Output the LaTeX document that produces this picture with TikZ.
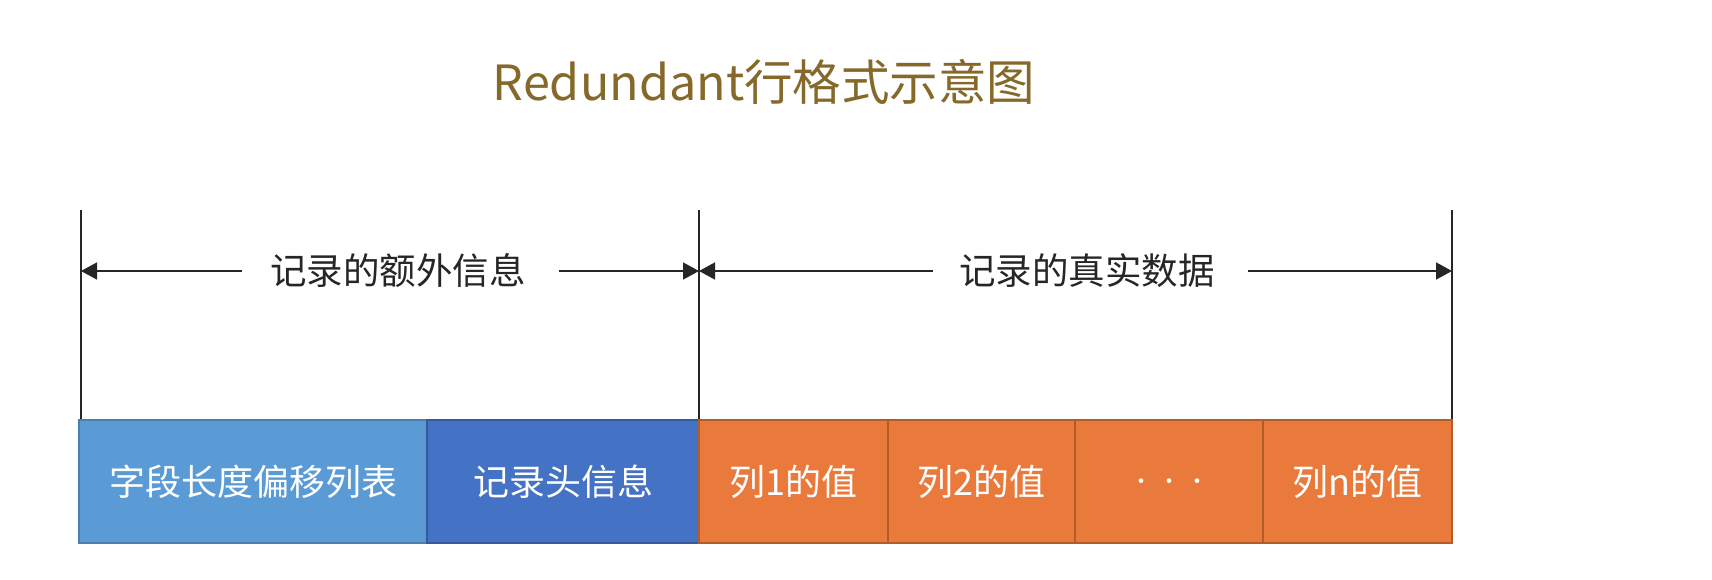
\documentclass[tikz,border=0pt]{standalone}
\usepackage{fontspec}
\setmainfont{Noto Sans CJK SC}
\usetikzlibrary{arrows.meta}
\definecolor{titlecol}{HTML}{86692A}
\definecolor{lblue}{HTML}{5B9BD5}
\definecolor{lblueb}{HTML}{4A7FB0}
\definecolor{dblue}{HTML}{4472C4}
\definecolor{dblueb}{HTML}{36599A}
\definecolor{orng}{HTML}{E97A3C}
\definecolor{orngb}{HTML}{B25C28}
\definecolor{txt}{HTML}{262626}
\begin{document}
\begin{tikzpicture}[x=1pt,y=-1pt,
  cell/.style={draw=#1b, line width=2pt, fill=#1, text=white, font=\fontsize{36}{42}\selectfont, inner sep=0pt},
  dimline/.style={line width=1.5pt, draw=txt},
  arr/.style={-{Triangle[length=16pt,width=17pt]}, line width=1.5pt, draw=txt},
  lbl/.style={text=txt, font=\fontsize{36.5}{42}\selectfont, inner sep=0pt}
]
\useasboundingbox (0,0) rectangle (1712,580);
\fill[white] (0,0) rectangle (1712,580);
% title
\node[text=titlecol, font=\fontsize{48.5}{54}\selectfont, inner sep=0pt] (title) at (764,82) {Redundant行格式示意图};
% vertical lines
\coordinate (l0t) at (81,210); \coordinate (l0b) at (81,420);
\coordinate (l1t) at (699,210); \coordinate (l1b) at (699,420);
\coordinate (l2t) at (1452,210); \coordinate (l2b) at (1452,420);
\draw[dimline] (l0t) -- (l0b);
\draw[dimline] (l1t) -- (l1b);
\draw[dimline] (l2t) -- (l2b);
% labels
\node[lbl] (extra) at (398,271) {记录的额外信息};
\node[lbl] (real) at (1087,271) {记录的真实数据};
\coordinate (a0) at (81,271);
\coordinate (a1) at (699,271);
\coordinate (a2) at (1452,271);
\coordinate (e1) at (242,271);
\coordinate (e2) at (559,271);
\coordinate (r1) at (933,271);
\coordinate (r2) at (1248,271);
\draw[arr] (e1) -- (a0);
\draw[arr] (e2) -- (a1);
\draw[arr] (r1) -- (a1);
\draw[arr] (r2) -- (a2);
% cells
\node[cell=lblue, minimum width=348pt, minimum height=123pt] (c1) at (253,481.5) {字段长度偏移列表};
\node[cell=dblue, minimum width=272pt, minimum height=123pt] (c2) at (563,481.5) {记录头信息};
\node[cell=orng, minimum width=189pt, minimum height=123pt] (c3) at (793.5,481.5) {列1的值};
\node[cell=orng, minimum width=187pt, minimum height=123pt] (c4) at (981.5,481.5) {列2的值};
\node[cell=orng, minimum width=188pt, minimum height=123pt, font=\fontsize{22}{26}\selectfont] (c5) at (1169,481.5) {\raisebox{-8pt}[0pt][0pt]{·\hspace{6pt}·\hspace{6pt}·}};
\node[cell=orng, minimum width=189pt, minimum height=123pt] (c6) at (1357.5,481.5) {列n的值};
\end{tikzpicture}
\end{document}
